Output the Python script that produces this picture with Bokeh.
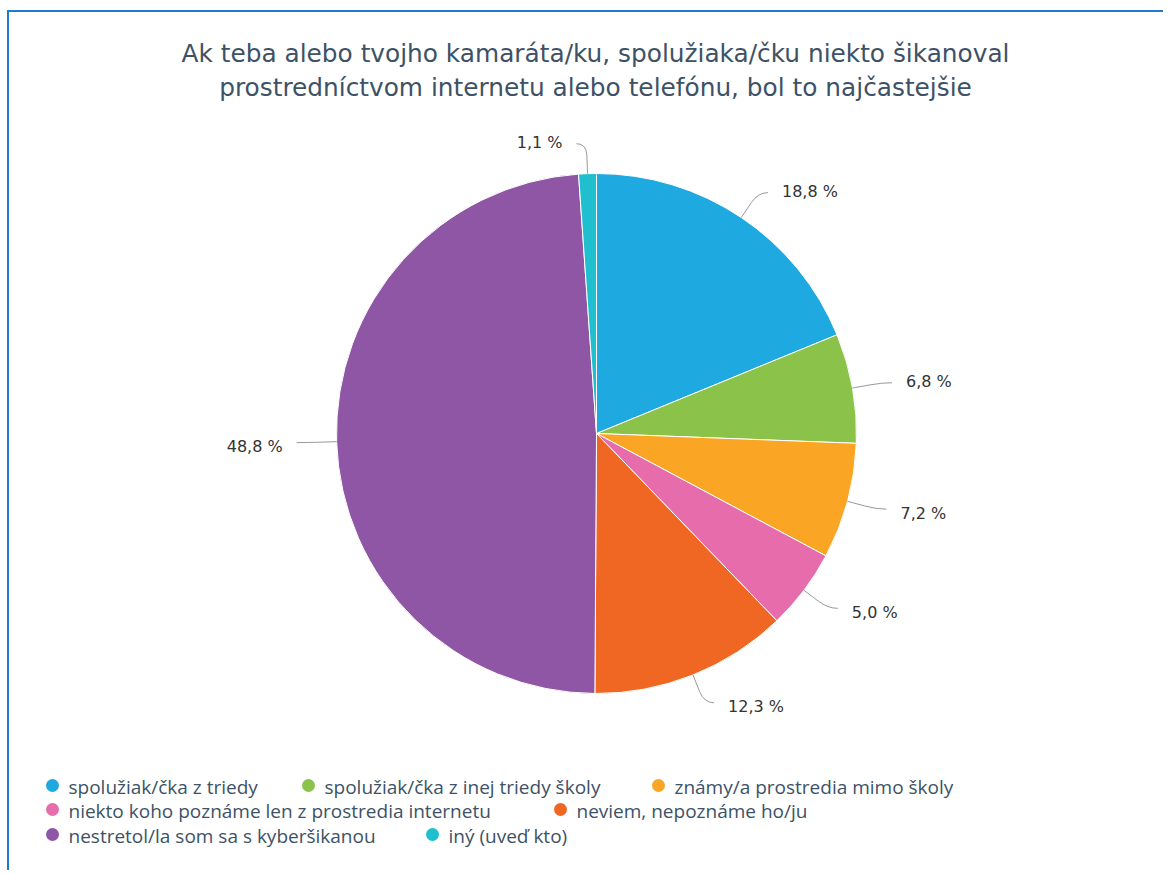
import math
from bokeh.plotting import figure
from bokeh.models import Range1d
from bokeh.core.properties import value
from bokeh.embed import file_html
from bokeh.resources import INLINE

# ---------------- data ----------------
title_lines = [
    "Ak teba alebo tvojho kamaráta/ku, spolužiaka/čku niekto šikanoval",
    "prostredníctvom internetu alebo telefónu, bol to najčastejšie",
]
categories = [
    "spolužiak/čka z triedy",
    "spolužiak/čka z inej triedy školy",
    "známy/a prostredia mimo školy",
    "niekto koho poznáme len z prostredia internetu",
    "neviem, nepoznáme ho/ju",
    "nestretol/la som sa s kyberšikanou",
    "iný (uveď kto)",
]
values = [18.8, 6.8, 7.2, 5.0, 12.3, 48.8, 1.1]
colors = ["#1fa9e1", "#8bc34a", "#faa523", "#e66cab", "#f06723", "#8e56a4", "#1fbfcf"]
value_labels = [f"{v:.1f}".replace(".", ",") + " %" for v in values]

# legend layout (rows of category indices)
legend_rows = [[0, 1, 2], [3, 4], [5, 6]]

# ---------------- layout ----------------
W, H = 1163, 870
def X(px):
    return px
def Y(py):
    return H - py

p = figure(width=W, height=H, output_backend="svg", toolbar_location=None,
           x_range=Range1d(0, W), y_range=Range1d(0, H), min_border=0)
p.axis.visible = False
p.grid.visible = False
p.outline_line_color = None
p.background_fill_color = "white"
p.border_fill_color = "white"

# border (top and left visible like in reference)
bc = "#1e7bd1"
p.segment(x0=[X(7.5), X(6.5)], y0=[0, Y(10.5)], x1=[X(7.5), W], y1=[Y(10.5), Y(10.5)],
          line_color=bc, line_width=2)

# title
p.text(x=[X(595), X(595)], y=[Y(53), Y(87)], text=title_lines, text_align="center",
       text_baseline="middle", text_font=value("DejaVu Sans"), text_font_size="24.8px",
       text_color="#3d5266")

# pie
cx, cy, r = X(596), Y(433), 260
total = sum(values)
cum = 0.0
starts, ends, mids = [], [], []
for v in values:
    a0 = cum / total
    cum += v
    a1 = cum / total
    starts.append(math.pi / 2 - 2 * math.pi * a0)
    ends.append(math.pi / 2 - 2 * math.pi * a1)
    mids.append(2 * math.pi * (a0 + a1) / 2)

p.wedge(x=cx, y=cy, radius=r, start_angle=starts, end_angle=ends, direction="clock",
        fill_color=colors, line_color="white", line_width=1)

# connectors and labels
for lbl, th in zip(value_labels, mids):
    s, c = math.sin(th), math.cos(th)
    sign = 1 if s >= 0 else -1
    ex, ey = cx + r * s, cy + r * c
    mx, my = cx + (r + 18) * s, cy + (r + 18) * c
    ax, ay = cx + (r + 30) * s, cy + (r + 30) * c
    endx = ax + sign * 10
    p.line([ex, mx], [ey, my], line_color="#999999", line_width=1)
    p.quadratic(x0=[mx], y0=[my], x1=[endx], y1=[ay], cx=[ax], cy=[ay],
                line_color="#999999", line_width=1)
    p.text(x=[ax + sign * 24], y=[ay + 1.5 if c > 0 else ay - 4], text=[lbl],
           text_align="left" if sign > 0 else "right", text_baseline="middle",
           text_font=value("DejaVu Sans"), text_font_size="16px", text_color="#333333")

# legend
row_y = [785, 809, 834]
row_x = [[52, 308, 658], [52, 560], [52, 432]]
for ri, row in enumerate(legend_rows):
    for ci, idx in enumerate(row):
        mx = X(row_x[ri][ci]); my = Y(row_y[ri])
        p.scatter(x=[mx], y=[my], marker="circle", size=13, fill_color=colors[idx], line_color=None)
        p.text(x=[mx + 16], y=[my - 1], text=[categories[idx]], text_align="left",
               text_baseline="middle", text_font=value("Open Sans"), text_font_size="19px",
               text_color="#3d5266")

open("out.html", "w").write(file_html(p, INLINE))
